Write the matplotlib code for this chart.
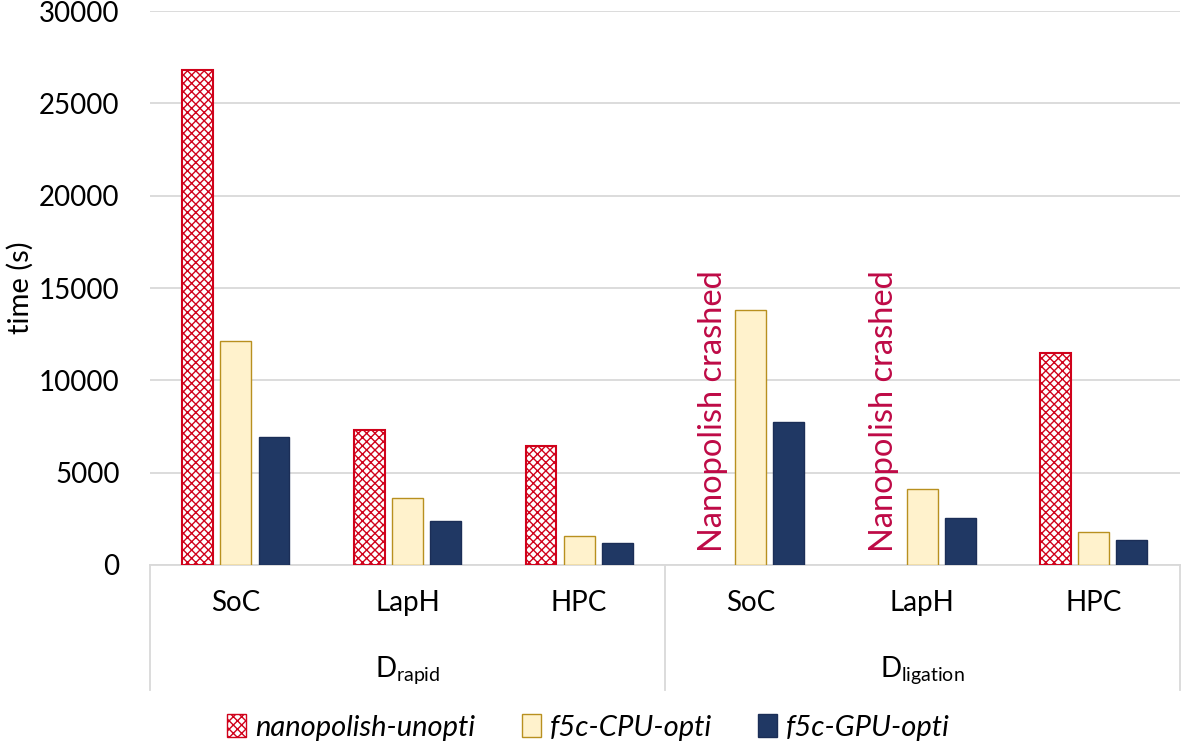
import numpy as np
import matplotlib
matplotlib.use("Agg")
import matplotlib.pyplot as plt
from matplotlib.patches import Patch
import matplotlib.transforms as mtransforms

plt.rcParams['font.family'] = ['Lato', 'DejaVu Sans']
plt.rcParams['mathtext.fontset'] = 'custom'
plt.rcParams['mathtext.rm'] = 'Lato'
plt.rcParams['mathtext.it'] = 'Lato:italic'
plt.rcParams['hatch.linewidth'] = 1.0

categories = ["SoC", "LapH", "HPC", "SoC", "LapH", "HPC"]
groups = ["D$_{\\mathrm{rapid}}$", "D$_{\\mathrm{ligation}}$"]
series_names = ["nanopolish-unopti", "f5c-CPU-opti", "f5c-GPU-opti"]
nanopolish = [26800, 7310, 6440, np.nan, np.nan, 11480]
f5c_cpu = [12130, 3630, 1570, 13800, 4110, 1790]
f5c_gpu = [6930, 2380, 1190, 7740, 2540, 1350]
crash_label = "Nanopolish crashed"
yticks = [0, 5000, 10000, 15000, 20000, 25000, 30000]

fig = plt.figure(figsize=(11.82, 7.44), dpi=100)
ax = fig.add_axes([0.127, 0.2406, 0.871, 0.7446])

x = np.arange(len(categories))
w = 0.18
step = 0.222

red = "#D0021B"
ax.bar(x - step, nanopolish, w, facecolor="white", edgecolor=red, hatch="xxxx", linewidth=1.5, zorder=3)
ax.bar(x, f5c_cpu, w, facecolor="#FFF2CC", edgecolor="#B8901F", linewidth=1.0, zorder=3)
ax.bar(x + step, f5c_gpu, w, facecolor="#203864", edgecolor="#1B2E57", linewidth=1.0, zorder=3)

for i, v in enumerate(nanopolish):
    if np.isnan(v):
        ax.text(x[i] - step, 700, crash_label, rotation=90, ha="center", va="bottom",
                color="#BE0A46", fontsize=23.5, zorder=4)

ax.set_ylim(0, 30000)
ax.set_xlim(-0.5, len(categories) - 0.5)
ax.set_yticks(yticks)
ax.set_yticklabels([str(t) for t in yticks], fontsize=20)
ax.yaxis.grid(True, color="#D9D9D9", linewidth=1.3, zorder=0)
ax.set_axisbelow(True)
ax.tick_params(axis="y", length=0, pad=22)
ax.tick_params(axis="x", length=0, pad=18)
ax.set_xticks(x)
ax.set_xticklabels(categories, fontsize=20)
for s in ["top", "right", "left"]:
    ax.spines[s].set_visible(False)
ax.spines["bottom"].set_color("#D9D9D9")
ax.spines["bottom"].set_linewidth(1.3)
ax.set_ylabel("time (s)", fontsize=21, labelpad=4)

trans = mtransforms.blended_transform_factory(ax.transData, ax.transAxes)
for xs in [-0.5, 2.5, 5.5]:
    ax.plot([xs, xs], [0, -0.226], transform=trans, color="#D9D9D9", linewidth=1.3, clip_on=False)
for gi, g in enumerate(groups):
    ax.text(gi * 3 + 1, -0.19, g, transform=trans, ha="center", va="center", fontsize=20)

handles = [Patch(facecolor="white", edgecolor=red, hatch="xxxx", linewidth=1.0),
           Patch(facecolor="#FFF2CC", edgecolor="#B8901F", linewidth=1.0),
           Patch(facecolor="#203864", edgecolor="#1B2E57", linewidth=1.0)]
fig.legend(handles, series_names, loc="center", bbox_to_anchor=(0.498, 0.022), ncol=3,
           frameon=False, prop={"style": "italic", "size": 21}, handlelength=0.65,
           handleheight=0.8, handletextpad=0.3, columnspacing=1.6)

fig.savefig("out.png", dpi=100)
